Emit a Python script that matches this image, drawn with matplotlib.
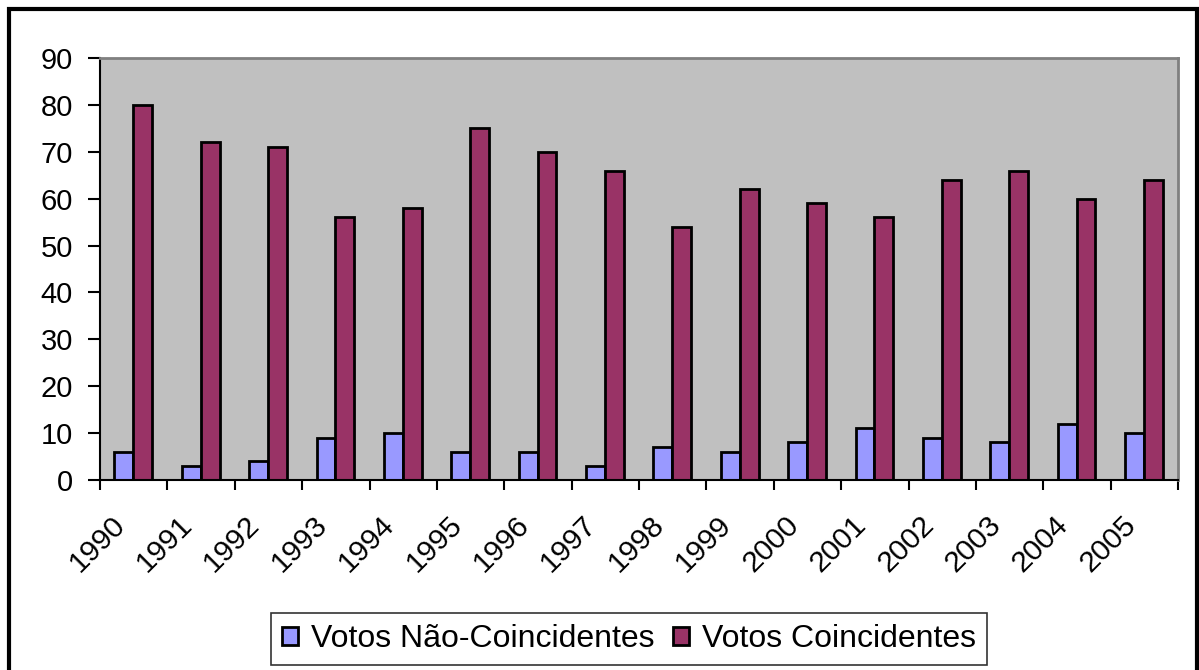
import numpy as np
import matplotlib
matplotlib.use("Agg")
import matplotlib.pyplot as plt
import matplotlib.transforms as mtransforms
from matplotlib.patches import Rectangle

years = ["1990", "1991", "1992", "1993", "1994", "1995", "1996", "1997",
         "1998", "1999", "2000", "2001", "2002", "2003", "2004", "2005"]
nao_coincidentes = [6, 3, 4, 9, 10, 6, 6, 3, 7, 6, 8, 11, 9, 8, 12, 10]
coincidentes = [80, 72, 71, 56, 58, 75, 70, 66, 54, 62, 59, 56, 64, 66, 60, 64]

plt.rcParams['font.family'] = ['Liberation Sans', 'DejaVu Sans']

fig = plt.figure(figsize=(11.99, 6.70), dpi=100)
ax = fig.add_axes([0.0834, 0.2836, 0.8991, 0.6298])

x = np.arange(len(years))
width = 0.28
ax.bar(x - 0.145, nao_coincidentes, width, color='#9999FF', edgecolor='black',
       linewidth=2, label='Votos Não-Coincidentes')
ax.bar(x + 0.135, coincidentes, width, color='#993366', edgecolor='black',
       linewidth=2, label='Votos Coincidentes')

ax.set_facecolor('#C0C0C0')
ax.set_xlim(-0.5, len(years) - 0.5)
ax.set_ylim(0, 90)
ax.set_yticks(range(0, 91, 10))
ax.tick_params(axis='y', labelsize=21, length=8.5, width=1.5, direction='out', pad=11)

ax.set_xticks(x)
ax.set_xticklabels(years, rotation=45, ha='right', va='center',
                   rotation_mode='anchor', fontsize=21.5)
ax.set_xticks(np.arange(-0.5, len(years)), minor=True)
ax.tick_params(axis='x', which='major', length=0, pad=29)
ax.tick_params(axis='x', which='minor', length=7, width=1.5, direction='out')

# shift year labels a little to the left, as in the original
shift = mtransforms.ScaledTranslation(-13 / 100, 0, fig.dpi_scale_trans)
for lbl in ax.get_xticklabels():
    lbl.set_transform(lbl.get_transform() + shift)

for side in ['top', 'right']:
    ax.spines[side].set_color('#808080')
    ax.spines[side].set_linewidth(2)
for side in ['left', 'bottom']:
    ax.spines[side].set_color('black')
    ax.spines[side].set_linewidth(1.5)

leg = fig.legend(loc='center', bbox_to_anchor=(0.5246, 0.0463), ncol=2, fontsize=23,
                 frameon=True, fancybox=False, handlelength=0.5, handleheight=0.5,
                 handletextpad=0.4, columnspacing=0.6, borderpad=0.35,
                 borderaxespad=0)
leg.get_frame().set_edgecolor('black')
leg.get_frame().set_linewidth(1.2)

# outer chart border
fig.patches.append(Rectangle((9 / 1199, -0.1), 1188 / 1199, 1.1 - 9 / 670,
                             transform=fig.transFigure, fill=False,
                             edgecolor='black', linewidth=3))

fig.savefig("out.png", dpi=100)
